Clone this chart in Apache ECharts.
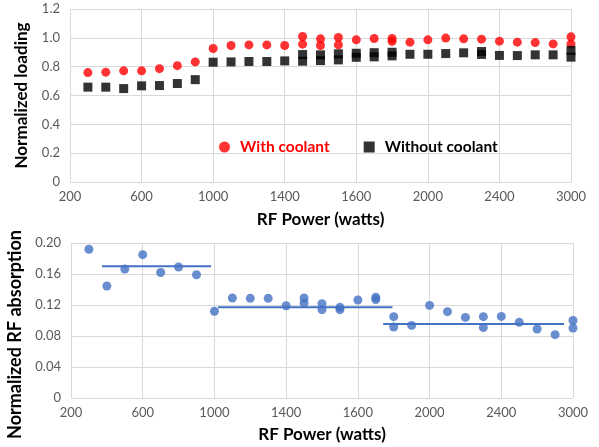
<!DOCTYPE html>
<html>
<head>
<meta charset="utf-8">
<script src="https://cdn.jsdelivr.net/npm/echarts@6/dist/echarts.min.js"></script>
<style>
  html, body { margin: 0; padding: 0; background: #fff; }
  #chart { width: 599px; height: 447px; }
</style>
</head>
<body>
<div id="chart"></div>
<script>
// RF power settings (watts) along the shared x axis; every 4th one is labelled
const powers = [
  '200', '300', '400', '500', '600', '700', '800', '900', '1000', '1100', '1200', '1300', '1400',
  '1450', '1500', '1550', '1600', '1700', '1800', '1900', '2000',
  '2100', '2200', '2300', '2400', '2550', '2700', '2850', '3000'
];

// Normalized loading, with coolant: [power, value]
const withCoolant = [
  ['300', 0.759], ['400', 0.762], ['500', 0.771], ['600', 0.771], ['700', 0.786],
  ['800', 0.807], ['900', 0.833], ['1000', 0.926], ['1100', 0.947], ['1200', 0.951],
  ['1300', 0.951], ['1400', 0.947], ['1450', 1.009], ['1450', 0.956], ['1500', 0.993],
  ['1500', 0.947], ['1550', 1.002], ['1550', 0.951], ['1600', 0.986], ['1700', 0.995],
  ['1800', 0.995], ['1800', 0.975], ['1900', 0.970], ['2000', 0.986], ['2100', 0.998],
  ['2200', 0.993], ['2300', 0.991], ['2400', 0.977], ['2550', 0.970], ['2700', 0.967],
  ['2850', 0.958], ['3000', 1.007], ['3000', 0.958]
];

// Normalized loading, without coolant: [power, value]
const withoutCoolant = [
  ['300', 0.658], ['400', 0.658], ['500', 0.648], ['600', 0.667], ['700', 0.669],
  ['800', 0.683], ['900', 0.710], ['1000', 0.831], ['1100', 0.833], ['1200', 0.836],
  ['1300', 0.836], ['1400', 0.840], ['1450', 0.884], ['1450', 0.838], ['1500', 0.882],
  ['1500', 0.842], ['1550', 0.889], ['1550', 0.847], ['1600', 0.893], ['1600', 0.865],
  ['1700', 0.897], ['1700', 0.868], ['1800', 0.900], ['1800', 0.875], ['1900', 0.886],
  ['2000', 0.886], ['2100', 0.891], ['2200', 0.896], ['2300', 0.905], ['2300', 0.885],
  ['2400', 0.878], ['2550', 0.877], ['2700', 0.882], ['2850', 0.882], ['3000', 0.913],
  ['3000', 0.866]
];

// Normalized RF absorption: [power, value]
const absorption = [
  ['300', 0.192], ['400', 0.1445], ['500', 0.1665], ['600', 0.185], ['700', 0.162],
  ['800', 0.169], ['900', 0.159], ['1000', 0.112], ['1100', 0.129], ['1200', 0.1286],
  ['1300', 0.1286], ['1400', 0.119], ['1450', 0.129], ['1450', 0.1226], ['1500', 0.1217],
  ['1500', 0.114], ['1550', 0.117], ['1550', 0.114], ['1600', 0.1265], ['1700', 0.130],
  ['1700', 0.127], ['1800', 0.105], ['1800', 0.0916], ['1900', 0.0937], ['2000', 0.1195],
  ['2100', 0.1114], ['2200', 0.104], ['2300', 0.105], ['2300', 0.091], ['2400', 0.1053],
  ['2550', 0.0976], ['2700', 0.089], ['2850', 0.0817], ['3000', 0.100], ['3000', 0.0903]
];

// Average absorption level of each power regime, and the axis-position span it covers
const meanLevels = [0.170, 0.117, 0.0955];
const meanSpans = [[1.73, 7.82], [8.2, 17.93], [17.41, 27.5]];

// y-axis tick settings
const loadingTicks = { min: 0, max: 1.2, interval: 0.2 };
const absorptionTicks = { min: 0, max: 0.2, interval: 0.04 };

const FONT = 'Lato, "Open Sans", sans-serif';
const GRID_COLOR = '#d9d9d9';
const TICK_COLOR = '#595959';

function xCategoryAxis(gridIndex, nameGap) {
  return {
    type: 'category',
    gridIndex: gridIndex,
    data: powers,
    boundaryGap: false,
    name: 'RF Power (watts)',
    nameLocation: 'middle',
    nameGap: nameGap,
    nameTextStyle: { fontFamily: FONT, fontSize: 17, fontWeight: 'bold', color: '#000' },
    axisLine: { show: false },
    axisTick: { show: false },
    axisLabel: { interval: 3, fontFamily: FONT, fontSize: 13, color: TICK_COLOR, margin: 8 },
    splitLine: { show: true, interval: 3, lineStyle: { color: GRID_COLOR, width: 1 } }
  };
}

function yValueAxis(gridIndex, ticks, name, nameGap, digits, titleStyle) {
  return {
    type: 'value',
    gridIndex: gridIndex,
    min: ticks.min,
    max: ticks.max,
    interval: ticks.interval,
    name: name,
    nameLocation: 'middle',
    nameGap: nameGap,
    nameTextStyle: Object.assign(
      { fontFamily: FONT, fontWeight: 'bold', color: '#000' }, titleStyle),
    axisLine: { show: false },
    axisTick: { show: false },
    axisLabel: {
      fontFamily: FONT, fontSize: 13, color: TICK_COLOR, margin: 10,
      formatter: v => (v === 0 ? '0' : v.toFixed(digits))
    },
    splitLine: { show: true, lineStyle: { color: GRID_COLOR, width: 1 } }
  };
}

const meanSeries = meanLevels.map((level, i) => ({
  type: 'line',
  xAxisIndex: 2,
  yAxisIndex: 1,
  data: [[meanSpans[i][0], level], [meanSpans[i][1], level]],
  symbol: 'none',
  lineStyle: { color: '#4472C4', width: 2 },
  silent: true,
  z: 2
}));

const chart = echarts.init(document.getElementById('chart'), null, { renderer: 'canvas' });
chart.setOption({
  animation: false,
  backgroundColor: '#fff',
  grid: [
    { left: 70, top: 9, width: 501, height: 173, outerBoundsMode: 'none' },
    { left: 71, top: 243, width: 502, height: 155, outerBoundsMode: 'none' }
  ],
  legend: {
    left: 214,
    top: 134,
    itemGap: 34,
    itemWidth: 11,
    itemHeight: 11,
    textStyle: { fontFamily: FONT, fontSize: 15.5, fontWeight: 'bold', padding: [0, 0, 0, 5] },
    data: [
      { name: 'With coolant', icon: 'circle', textStyle: { color: '#ff0000' } },
      { name: 'Without coolant', icon: 'rect', textStyle: { color: '#000' } }
    ]
  },
  xAxis: [
    xCategoryAxis(0, 29),
    xCategoryAxis(1, 28),
    // positional axis for the regime averages (same span as the power categories)
    { type: 'value', gridIndex: 1, min: 0, max: powers.length - 1, show: false }
  ],
  yAxis: [
    yValueAxis(0, loadingTicks, 'Normalized loading', 40, 1, { fontSize: 17 }),
    yValueAxis(1, absorptionTicks, 'Normalized RF absorption', 40, 2,
      { fontSize: 18, padding: [0, 28, 0, 0] })
  ],
  series: [
    {
      name: 'With coolant',
      type: 'scatter',
      xAxisIndex: 0, yAxisIndex: 0,
      data: withCoolant,
      symbol: 'circle',
      symbolSize: 9,
      itemStyle: { color: '#ff0000' },
      z: 3
    },
    {
      name: 'Without coolant',
      type: 'scatter',
      xAxisIndex: 0, yAxisIndex: 0,
      data: withoutCoolant,
      symbol: 'rect',
      symbolSize: 9,
      itemStyle: { color: '#000' },
      z: 3
    },
    {
      name: 'RF absorption',
      type: 'scatter',
      xAxisIndex: 1, yAxisIndex: 1,
      data: absorption,
      symbol: 'circle',
      symbolSize: 9,
      itemStyle: { color: '#4472C4' },
      z: 3
    },
    ...meanSeries
  ]
});
</script>
</body>
</html>
